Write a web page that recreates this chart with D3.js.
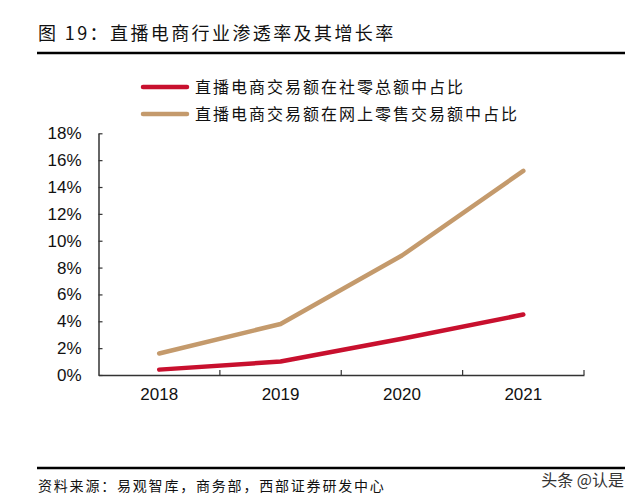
<!DOCTYPE html>
<html><head><meta charset="utf-8">
<script src="https://cdn.jsdelivr.net/npm/d3@7"></script>
<style>
body{margin:0;background:#fff;}
svg{display:block;}
</style></head>
<body>
<svg id="c" width="640" height="500"></svg>
<script>
const categories = ["2018","2019","2020","2021"];
const seriesNames = ["直播电商交易额在社零总额中占比","直播电商交易额在网上零售交易额中占比"];
const shareOfRetail = [0.004, 0.010, 0.027, 0.045];
const shareOfOnline = [0.016, 0.038, 0.089, 0.152];
const yTicks = [0,0.02,0.04,0.06,0.08,0.10,0.12,0.14,0.16,0.18];
const colors = ["#c8102e","#c49a6c"];
const titleText = "图 19：直播电商行业渗透率及其增长率";
const sourceText = "资料来源：易观智库，商务部，西部证券研发中心";
const watermark = "头条 @认是";

const svg = d3.select("#c");
const cjk = "'Noto Sans CJK SC', 'Noto Sans', sans-serif";
const latin = "'Liberation Sans', Arial, sans-serif";

// title
svg.append("text").attr("x",38).attr("y",40)
  .attr("font-family",cjk).attr("font-size",18).attr("letter-spacing",2.4)
  .attr("fill","#111").text(titleText);
svg.append("line").attr("x1",37).attr("x2",625).attr("y1",53).attr("y2",53)
  .attr("stroke","#000").attr("stroke-width",2.5);

// legend
const legend = svg.append("g");
seriesNames.forEach((n,i)=>{
  const y = 87 + i*27;
  legend.append("line").attr("x1",143).attr("x2",187).attr("y1",y).attr("y2",y)
    .attr("stroke",colors[i]).attr("stroke-width",4.5).attr("stroke-linecap","round");
  legend.append("text").attr("x",195).attr("y",y).attr("dy","0.36em")
    .attr("font-family",cjk).attr("font-size",16).attr("letter-spacing",2)
    .attr("fill","#111").text(n);
});

// scales
const x = d3.scaleBand().domain(categories).range([98.5,584]).padding(0);
const y = d3.scaleLinear().domain([0,0.18]).range([375,133.3]);

// y axis
const yAxis = d3.axisLeft(y).tickValues(yTicks).tickFormat(d3.format(".0%")).tickSizeInner(-4).tickSizeOuter(0).tickPadding(17);
const gy = svg.append("g").attr("transform","translate(98.5,0)").call(yAxis);
gy.select(".domain").attr("stroke","#333").attr("stroke-width",1.5);
gy.selectAll(".tick line").attr("stroke","#333").attr("stroke-width",1.2);
gy.selectAll("text").attr("font-family",latin).attr("font-size",17).attr("fill","#111");

// x axis
const xAxis = d3.axisBottom(x).tickSize(0).tickPadding(13);
const gx = svg.append("g").attr("transform","translate(0,375)").call(xAxis);
gx.select(".domain").attr("stroke","#333").attr("stroke-width",1.5);
gx.selectAll("text").attr("font-family",latin).attr("font-size",17).attr("fill","#111");
// boundary ticks (between categories)
const bounds = categories.map(c=>x(c)+x.bandwidth()).slice(0);
gx.selectAll(".btick").data(bounds).enter().append("line").attr("class","btick")
  .attr("x1",d=>d).attr("x2",d=>d).attr("y1",0).attr("y2",-5)
  .attr("stroke","#333").attr("stroke-width",1.2);

// lines
const line = d3.line().x((d,i)=>x(categories[i])+x.bandwidth()/2).y(d=>y(d));
[shareOfRetail, shareOfOnline].forEach((s,i)=>{
  svg.append("path").datum(s).attr("d",line).attr("fill","none")
    .attr("stroke",colors[i]).attr("stroke-width",4.5)
    .attr("stroke-linecap","round").attr("stroke-linejoin","round");
});

// footer
svg.append("line").attr("x1",37).attr("x2",625).attr("y1",468).attr("y2",468)
  .attr("stroke","#000").attr("stroke-width",2.5);
svg.append("text").attr("x",38).attr("y",491)
  .attr("font-family",cjk).attr("font-size",14).attr("letter-spacing",1.8)
  .attr("fill","#111").text(sourceText);
svg.append("text").attr("x",624).attr("y",486).attr("text-anchor","end")
  .attr("font-family",cjk).attr("font-size",16)
  .attr("fill","#333").text(watermark);
</script>
</body></html>
